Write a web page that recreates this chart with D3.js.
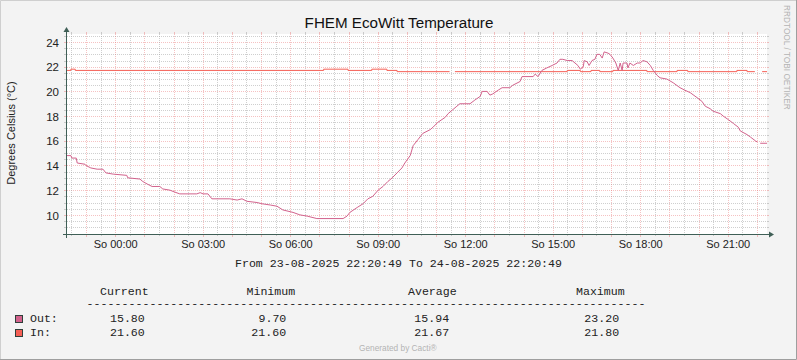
<!DOCTYPE html>
<html><head><meta charset="utf-8">
<script src="https://cdn.jsdelivr.net/npm/d3@7"></script>
<style>html,body{margin:0;padding:0;background:#f3f3f3}svg{display:block}</style>
</head><body><svg id="c" width="797" height="360"></svg>
<script>
// ---------- DATA ----------
const title = "FHEM EcoWitt Temperature";
const yLabel = "Degrees Celsius (°C)";
const periodText = "From 23-08-2025 22:20:49 To 24-08-2025 22:20:49";
const startTime = [2025, 7, 23, 22, 20, 49];   // 23-08-2025 22:20:49
const spanMinutes = 1440;

// Out series: minutes since start, temperature
const outMinutes = [0,8,10,19,21,37,39,49,62,74,80,95,123,125,150,156,165,175,191,197,212,218,232,267,274,280,290,298,335,350,360,370,391,401,418,432,444,465,479,494,514,568,576,582,597,609,619,629,640,650,660,669,679,689,695,706,712,722,732,747,753,763,778,784,802,808,829,839,850,854,864,870,876,887,895,911,917,932,936,959,963,969,977,987,998,1008,1014,1020,1029,1039,1045,1051,1056,1062,1064,1070,1074,1080,1086,1090,1096,1101,1105,1113,1117,1123,1129,1134,1138,1142,1144,1152,1154,1158,1165,1173,1179,1185,1193,1200,1206,1214,1220,1234,1247,1261,1271,1282,1296,1306,1313,1323,1329,1344,1350,1361,1371,1381,1385,1399,1406,1416,1420,1423,1426,1440];
const outValues  = [14.8,14.8,14.6,14.6,14.2,14.1,14.0,13.8,13.7,13.7,13.4,13.3,13.2,13.0,12.9,12.7,12.5,12.3,12.3,12.1,12.0,11.9,11.7,11.7,11.8,11.7,11.7,11.3,11.3,11.2,11.3,11.1,11.0,10.9,10.8,10.7,10.4,10.2,10.0,9.9,9.7,9.7,9.9,10.2,10.6,10.9,11.3,11.5,12.0,12.3,12.7,13.0,13.4,13.8,14.2,14.8,15.6,16.1,16.6,16.9,17.1,17.5,17.9,18.2,18.8,19.0,19.0,19.3,19.6,20.0,20.0,19.7,19.8,20.1,20.3,20.3,20.5,20.8,21.2,21.2,21.4,21.2,21.7,21.9,22.1,22.3,22.6,22.6,22.5,22.5,22.3,22.1,21.8,22.0,22.5,22.4,22.1,22.5,22.6,23.0,23.0,22.7,23.2,23.1,23.0,22.7,22.3,21.7,22.3,21.7,22.3,22.3,21.9,22.3,22.1,22.3,22.3,22.5,22.4,22.1,21.7,21.3,21.1,21.0,20.7,20.3,20.1,19.9,19.5,19.2,18.8,18.6,18.4,18.2,18.0,17.7,17.4,17.1,16.8,16.5,16.3,16.0,15.9,null,15.8,15.8];

// In series (step values): minutes since start, temperature (null = no data)
const inMinutes = [0,8,17,528,578,627,658,679,787,788,798,1029,1056,1078,1096,1123,1193,1255,1277,1378,1399,1415,1416,1430,1440];
const inValues  = [21.7,21.8,21.7,21.8,21.7,21.8,21.7,21.6,21.6,null,21.6,21.7,21.6,21.7,21.6,21.7,21.6,21.7,21.6,21.7,21.6,21.6,null,21.6,21.6];

const yTicks = [10,12,14,16,18,20,22,24];
const xTickHours = [0,3,6,9,12,15,18,21];
const xTickLabels = ["So 00:00","So 03:00","So 06:00","So 09:00","So 12:00","So 15:00","So 18:00","So 21:00"];

const legendHeaders = ["Current","Minimum","Average","Maximum"];
const seriesNames = ["Out:","In:"];
const seriesColors = ["#d2628c","#f55f55"];
const outStats = ["15.80","9.70","15.94","23.20"];
const inStats  = ["21.60","21.60","21.67","21.80"];

// ---------- LAYOUT ----------
const W = 797, H = 360;
const X0 = 67, X1 = 767, Y0 = 234, Y1 = 34;
const svg = d3.select("#c");
const start = new Date(...startTime);
const end = d3.timeMinute.offset(start, spanMinutes);
const t = m => new Date(start.getTime() + m * 60000);

const x = d3.scaleTime().domain([start, end]).range([X0, X1]);
const y = d3.scaleLinear().domain([8.45, 24.65]).range([Y0, Y1]);

// background + frame
svg.append("rect").attr("width", W).attr("height", H).attr("fill", "#f3f3f3");
svg.append("path").attr("d", `M0.5,${H}V0.5H${W}`).attr("fill","none").attr("stroke","#cfcfcf");
svg.append("path").attr("d", `M0,${H-0.5}H${W-0.5}V0`).attr("fill","none").attr("stroke","#9e9e9e");
svg.append("rect").attr("x", X0).attr("y", Y1).attr("width", X1 - X0).attr("height", Y0 - Y1).attr("fill", "#ffffff");

const grid = svg.append("g").attr("shape-rendering", "crispEdges");
const crisp = v => Math.round(v) + 0.5;
const minorCol = "rgba(160,160,160,0.5)", majorCol = "rgba(230,110,110,0.42)";

// horizontal grid
d3.range(9, 24.6, 0.5).forEach(v => {
  const major = Math.abs(v % 2) < 1e-9;
  const yy = crisp(y(v));
  grid.append("line").attr("x1", X0).attr("x2", X1).attr("y1", yy).attr("y2", yy)
    .attr("stroke", major ? majorCol : minorCol).attr("stroke-dasharray", "1,1");
  grid.append("line").attr("x1", X0 - 3).attr("x2", X0).attr("y1", yy).attr("y2", yy)
    .attr("stroke", major ? majorCol : minorCol);
  grid.append("line").attr("x1", X1).attr("x2", X1 + 2).attr("y1", yy).attr("y2", yy)
    .attr("stroke", major ? majorCol : minorCol);
});
// vertical grid
d3.timeMinute.every(30).range(start, end).forEach(d => {
  const major = d.getMinutes() === 0;
  const xx = crisp(x(d));
  if (xx <= X0 + 1) return;
  grid.append("line").attr("x1", xx).attr("x2", xx).attr("y1", Y1).attr("y2", Y0)
    .attr("stroke", major ? majorCol : minorCol).attr("stroke-dasharray", "1,1");
  grid.append("line").attr("x1", xx).attr("x2", xx).attr("y1", Y0).attr("y2", Y0 + (major ? 3 : 2))
    .attr("stroke", major ? majorCol : minorCol);
  grid.append("line").attr("x1", xx).attr("x2", xx).attr("y1", Y1 - 2).attr("y2", Y1)
    .attr("stroke", major ? majorCol : minorCol);
});

// series
const inLine = d3.line().defined(d => d[1] != null).x(d => x(t(d[0]))).y(d => y(d[1])).curve(d3.curveStepAfter);
const outLine = d3.line().defined(d => d[1] != null).x(d => x(t(d[0]))).y(d => y(d[1]));
svg.append("path").datum(inMinutes.map((m, i) => [m, inValues[i]]))
  .attr("d", inLine).attr("fill", "none").attr("stroke", seriesColors[1]).attr("stroke-width", 1);
svg.append("path").datum(outMinutes.map((m, i) => [m, outValues[i]]))
  .attr("d", outLine).attr("fill", "none").attr("stroke", seriesColors[0]).attr("stroke-width", 1);

// axes lines with arrows
const axisCol = "#3f5f56";
svg.append("line").attr("x1", X0 - 0.5).attr("x2", X0 - 0.5).attr("y1", Y0 + 4).attr("y2", 31).attr("stroke", axisCol);
svg.append("line").attr("x1", X0 - 4).attr("x2", X1 + 3).attr("y1", Y0 + 0.5).attr("y2", Y0 + 0.5).attr("stroke", axisCol);
svg.append("path").attr("d", `M${X0-3.5},32L${X0-0.5},27L${X0+2.5},32Z`).attr("fill", axisCol);
svg.append("path").attr("d", `M${X1+2},${Y0-2.5}L${X1+7},${Y0+0.5}L${X1+2},${Y0+3.5}Z`).attr("fill", axisCol);

// axis labels via d3 axes
const yAxis = d3.axisLeft(y).tickValues(yTicks).tickSize(0).tickPadding(0).tickFormat(d3.format("d"));
svg.append("g").attr("transform", `translate(${X0 - 8},0)`).call(yAxis)
  .call(g => g.select(".domain").remove())
  .selectAll("text").attr("font-family", "Liberation Sans, Arial, sans-serif").attr("font-size", 11.5).attr("fill", "#222").attr("dy", "0.36em");

const xTickTimes = xTickHours.map(h => new Date(2025, 7, 24, h, 0, 0));
const xAxis = d3.axisBottom(x).tickValues(xTickTimes).tickSize(0).tickPadding(0).tickFormat((d, i) => xTickLabels[i]);
svg.append("g").attr("transform", `translate(0,${Y0 + 14})`).call(xAxis)
  .call(g => g.select(".domain").remove())
  .selectAll("text").attr("font-family", "Liberation Sans, Arial, sans-serif").attr("font-size", 11).attr("fill", "#222").attr("dy", 0);

// title and labels
svg.append("text").attr("x", 399).attr("y", 28).attr("text-anchor", "middle")
  .attr("font-family", "Liberation Sans, Arial, sans-serif").attr("font-size", 15.2).attr("fill", "#111").text(title);
svg.append("text").attr("transform", "translate(15,133) rotate(-90)").attr("text-anchor", "middle")
  .attr("font-family", "Liberation Sans, Arial, sans-serif").attr("font-size", 11).attr("fill", "#222").text(yLabel);
svg.append("text").attr("transform", "translate(784,5) rotate(90)").attr("text-anchor", "start")
  .attr("font-family", "Liberation Sans, Arial, sans-serif").attr("font-size", 8.3).attr("fill", "#b4b4b4").text("RRDTOOL / TOBI OETIKER");

// legend
const mono = "Liberation Mono, Courier New, monospace";
const lg = svg.append("g").attr("font-family", mono).attr("font-size", 11.6).attr("fill", "#222");
lg.append("text").attr("x", 398.5).attr("y", 267).attr("text-anchor", "middle").text(periodText);
const headerX = [100, 246.5, 408, 576];
legendHeaders.forEach((h, i) => lg.append("text").attr("x", headerX[i]).attr("y", 294.5).text(h));
lg.append("text").attr("x", 86.5).attr("y", 307).attr("textLength", 559).attr("lengthAdjust", "spacing").text("-".repeat(80));
const rowY = [322, 336];
const valX = [[110, 258.5, 414.3, 584.3], [110, 251.3, 414.3, 584.3]];
[outStats, inStats].forEach((stats, r) => {
  svg.append("rect").attr("x", 15.5).attr("y", rowY[r] - 6.5).attr("width", 7).attr("height", 7)
    .attr("fill", seriesColors[r]).attr("stroke", "#2f3f3a").attr("stroke-width", 1);
  lg.append("text").attr("x", 30).attr("y", rowY[r]).text(seriesNames[r]);
  stats.forEach((s, i) => lg.append("text").attr("x", valX[r][i]).attr("y", rowY[r]).text(s));
});
svg.append("text").attr("x", 359).attr("y", 351).attr("font-family", "Liberation Sans, Arial, sans-serif")
  .attr("font-size", 8.3).attr("fill", "#b4b4b4").text("Generated by Cacti®");
</script></body></html>
